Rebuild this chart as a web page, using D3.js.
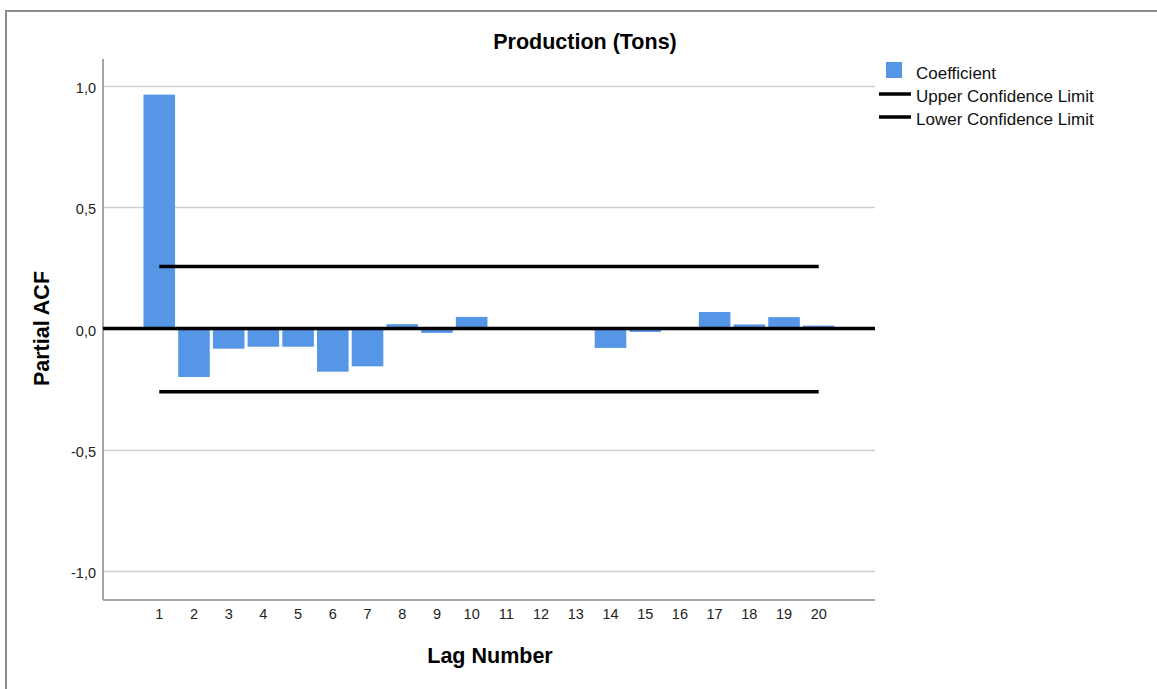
<!DOCTYPE html>
<html>
<head>
<meta charset="utf-8">
<script src="https://cdn.jsdelivr.net/npm/d3@7"></script>
<style>
  html, body { margin: 0; padding: 0; background: #fff; }
  svg { display: block; }
  text { font-family: "Liberation Sans", Arial, sans-serif; }
</style>
</head>
<body>
<svg id="chart" width="1157" height="689"></svg>
<script>
// Partial autocorrelation of production series, lags 1..20
const lags = [1, 2, 3, 4, 5, 6, 7, 8, 9, 10, 11, 12, 13, 14, 15, 16, 17, 18, 19, 20];
const coefficients = [0.965, -0.200, -0.083, -0.075, -0.075, -0.178, -0.156, 0.018, -0.018, 0.048,
                      -0.004, 0.003, -0.003, -0.080, -0.014, 0.001, 0.068, 0.017, 0.047, 0.012];
const upperLimit = 0.256;
const lowerLimit = -0.261;
const yTicks = [1.0, 0.5, 0.0, -0.5, -1.0];
const legendItems = ["Coefficient", "Upper Confidence Limit", "Lower Confidence Limit"];

const svg = d3.select("#chart");

const plot = { left: 103, right: 875, top: 59, bottom: 600 };

const x = d3.scaleBand()
  .domain(lags)
  .range([plot.left, plot.right])
  .paddingInner(0.09)
  .paddingOuter(1.166);

const y = d3.scaleLinear()
  .domain([-1.12, 1.112])
  .range([plot.bottom, plot.top]);

const fmt = v => d3.format(".1f")(v).replace(".", ",").replace("−", "-");

// outer frame
svg.append("path")
  .attr("d", "M6,700 L6,11 L1170,11")
  .attr("fill", "none")
  .attr("stroke", "#8c8c8c")
  .attr("stroke-width", 2);

// gridlines
svg.append("g")
  .selectAll("line")
  .data(yTicks)
  .join("line")
  .attr("x1", plot.left).attr("x2", plot.right)
  .attr("y1", d => Math.round(y(d)) + 0.5).attr("y2", d => Math.round(y(d)) + 0.5)
  .attr("stroke", "#cfcfcf")
  .attr("stroke-width", 1.5);

// y axis
const yAxis = svg.append("g")
  .attr("transform", `translate(${plot.left},0)`)
  .call(d3.axisLeft(y).tickValues(yTicks).tickFormat(fmt).tickSize(0).tickPadding(7));
yAxis.select(".domain").remove();
yAxis.selectAll("text")
  .attr("font-family", "Liberation Sans, Arial, sans-serif")
  .attr("font-size", 14.5)
  .attr("dy", "0.45em")
  .attr("fill", "#222");
svg.append("line")
  .attr("x1", plot.left).attr("x2", plot.left)
  .attr("y1", plot.top).attr("y2", plot.bottom)
  .attr("stroke", "#8a8a8a").attr("stroke-width", 1.5);

// x axis
const xAxis = svg.append("g")
  .attr("transform", `translate(0,${plot.bottom})`)
  .call(d3.axisBottom(x).tickSize(0).tickPadding(9));
xAxis.select(".domain").remove();
xAxis.selectAll("text")
  .attr("font-family", "Liberation Sans, Arial, sans-serif")
  .attr("font-size", 14.5)
  .attr("fill", "#222");
svg.append("line")
  .attr("x1", plot.left).attr("x2", plot.right)
  .attr("y1", plot.bottom).attr("y2", plot.bottom)
  .attr("stroke", "#8a8a8a").attr("stroke-width", 1.5);

// bars
svg.append("g")
  .selectAll("rect")
  .data(lags.map((l, i) => ({ lag: l, v: coefficients[i] })))
  .join("rect")
  .attr("x", d => x(d.lag))
  .attr("width", x.bandwidth())
  .attr("y", d => y(Math.max(0, d.v)))
  .attr("height", d => Math.abs(y(d.v) - y(0)))
  .attr("fill", "#5596e6");

// zero reference line
svg.append("line")
  .attr("x1", plot.left).attr("x2", plot.right)
  .attr("y1", y(0)).attr("y2", y(0))
  .attr("stroke", "#000").attr("stroke-width", 3.5);

// confidence limits
const cx = l => x(l) + x.bandwidth() / 2;
[upperLimit, lowerLimit].forEach(v => {
  svg.append("line")
    .attr("x1", cx(lags[0])).attr("x2", cx(lags[lags.length - 1]))
    .attr("y1", y(v)).attr("y2", y(v))
    .attr("stroke", "#000").attr("stroke-width", 3.5);
});

// title and axis labels
svg.append("text")
  .attr("x", 585).attr("y", 49)
  .attr("text-anchor", "middle")
  .attr("font-size", 21.5).attr("font-weight", "bold")
  .text("Production (Tons)");

svg.append("text")
  .attr("transform", `translate(49,${y(0)}) rotate(-90)`)
  .attr("text-anchor", "middle")
  .attr("font-size", 21.5).attr("font-weight", "bold")
  .text("Partial ACF");

svg.append("text")
  .attr("x", 490).attr("y", 663)
  .attr("text-anchor", "middle")
  .attr("font-size", 21.5).attr("font-weight", "bold")
  .text("Lag Number");

// legend
const legend = svg.append("g");
legendItems.forEach((label, i) => {
  const ly = 71 + i * 23;
  if (i === 0) {
    legend.append("rect")
      .attr("x", 886).attr("y", ly - 9).attr("width", 16).attr("height", 16)
      .attr("fill", "#5596e6");
  } else {
    legend.append("line")
      .attr("x1", 879).attr("x2", 911)
      .attr("y1", ly).attr("y2", ly)
      .attr("stroke", "#000").attr("stroke-width", 3.5);
  }
  legend.append("text")
    .attr("x", 916).attr("y", ly + 8)
    .attr("font-size", 17)
    .attr("fill", "#111")
    .text(label);
});
</script>
</body>
</html>
